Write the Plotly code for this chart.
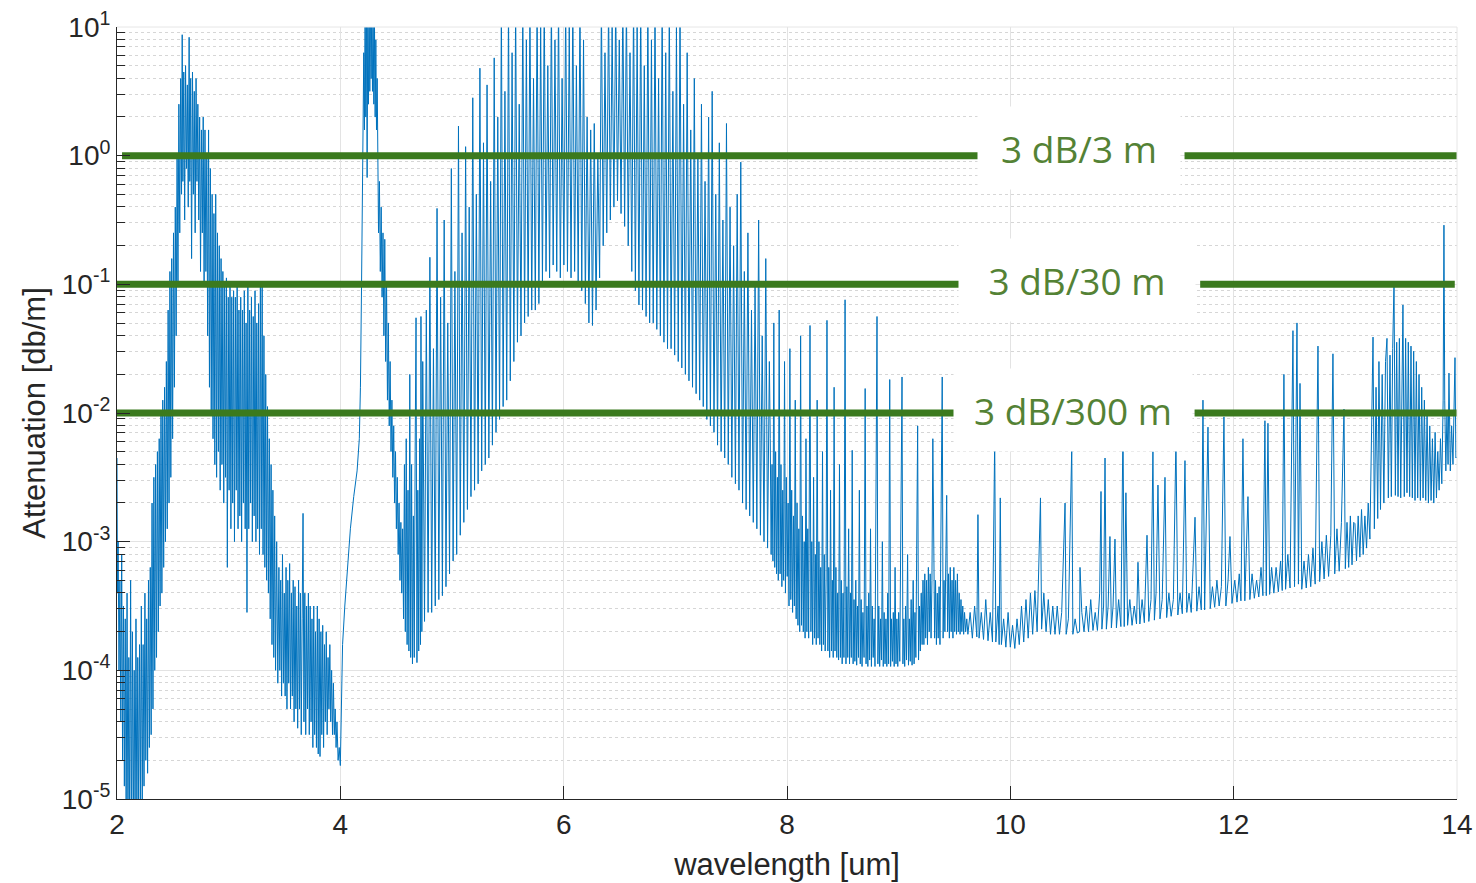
import math
import plotly.graph_objects as go

# ---- data: (wavelength um, log10 attenuation dB/m) ----
band_2um = [
(2.000,-2.35),(2.004,-3.4),(2.010,-3.0),(2.018,-4.0),(2.026,-3.3),(2.034,-4.4),(2.042,-3.1),(2.050,-4.7),
(2.058,-3.5),(2.066,-4.9),(2.074,-3.6),(2.082,-5.2),(2.090,-3.4),(2.098,-5.3),(2.106,-3.9),(2.114,-5.3),
(2.122,-3.3),(2.130,-5.3),(2.138,-3.7),(2.146,-5.3),(2.154,-4.0),(2.162,-5.2),(2.170,-3.6),(2.178,-5.3),
(2.186,-3.9),(2.194,-5.1),(2.202,-3.8),(2.210,-5.0),(2.218,-3.5),(2.226,-5.1),(2.234,-3.8),(2.242,-4.9),
(2.250,-3.4),(2.258,-4.7),(2.266,-3.6),(2.274,-4.8),(2.282,-3.3),(2.290,-4.6),(2.298,-3.2),(2.306,-4.5),
(2.314,-2.7),(2.322,-4.3),(2.330,-2.5),(2.338,-4.0),(2.346,-2.4),(2.354,-3.9),(2.362,-2.3),(2.370,-3.7),
(2.378,-2.2),(2.386,-3.5),(2.394,-2.0),(2.402,-3.4),(2.410,-1.9),(2.418,-3.2),(2.426,-1.8),(2.434,-3.0),
(2.442,-1.6),(2.450,-2.9),(2.458,-1.2),(2.466,-2.7),(2.474,-0.9),(2.482,-2.5),(2.490,-0.8),(2.498,-2.2),
(2.506,-0.6),(2.514,-1.8),(2.522,-0.4),(2.530,-1.4),(2.538,0.0),(2.546,-1.0),(2.554,0.4),
]

band_27um = [
(2.562,-0.6),(2.570,0.6),(2.578,-0.3),(2.584,0.94),(2.590,-0.2),(2.598,0.65),(2.606,-0.5),(2.614,0.7),
(2.622,-0.1),(2.630,0.55),(2.638,-0.4),(2.646,0.92),(2.652,-0.2),(2.660,0.6),(2.668,-0.8),(2.676,0.65),
(2.684,-0.3),(2.692,0.5),(2.700,-0.6),(2.708,0.6),(2.716,-0.2),(2.724,0.4),(2.732,-0.5),(2.740,0.3),
(2.748,-0.9),(2.756,0.2),(2.764,-0.6),(2.772,0.3),(2.780,-1.0),(2.788,0.2),(2.796,-0.9),(2.804,0.0),
(2.812,-1.4),(2.820,0.2),(2.828,-1.8),(2.836,-0.1),(2.844,-2.0),(2.852,-0.3),(2.860,-2.2),(2.868,-0.45),
(2.876,-2.4),(2.884,-0.3),(2.892,-2.5),(2.900,-0.6),(2.908,-2.3),(2.916,-0.7),(2.924,-2.6),(2.932,-0.8),
(2.940,-2.4),(2.948,-0.9),(2.956,-2.7),(2.964,-1.0),(2.972,-2.5),(2.980,-0.95),(2.988,-3.2),(2.996,-1.1),
(3.004,-2.6),(3.012,-1.0),(3.020,-2.9),(3.028,-1.1),(3.036,-2.7),(3.044,-1.05),(3.052,-3.0),(3.060,-1.1),
(3.068,-2.6),(3.076,-1.0),(3.084,-2.9),(3.092,-1.2),(3.100,-2.8),(3.108,-1.1),(3.116,-3.0),(3.124,-1.2),
(3.132,-2.7),(3.140,-1.05),(3.148,-2.9),(3.156,-1.3),(3.164,-3.55),(3.172,-1.0),(3.180,-2.9),(3.188,-1.2),
(3.196,-2.7),(3.204,-1.1),(3.212,-3.0),(3.220,-1.25),(3.228,-2.8),(3.236,-1.05),(3.244,-3.0),(3.252,-1.3),
(3.260,-2.9),(3.268,-1.15),(3.276,-3.1),(3.284,-1.0),(3.292,-2.9),(3.300,-1.0),(3.308,-3.1),(3.316,-1.4),
(3.324,-3.2),(3.332,-1.7),(3.340,-3.3),(3.348,-1.95),(3.356,-3.4),(3.364,-2.2),(3.372,-3.6),(3.380,-2.4),
(3.388,-3.8),(3.396,-2.6),(3.404,-3.9),(3.412,-2.8),(3.420,-4.0),(3.430,-3.0),(3.440,-4.1),
]

band_35um = [
(3.450,-3.2),(3.458,-4.0),(3.466,-3.3),(3.474,-4.2),(3.482,-3.1),(3.490,-4.1),(3.498,-3.4),(3.506,-4.2),
(3.514,-3.2),(3.522,-4.3),(3.530,-3.3),(3.538,-4.1),(3.546,-3.17),(3.554,-4.3),(3.562,-3.4),(3.570,-4.2),
(3.578,-3.3),(3.586,-4.4),(3.594,-3.35),(3.602,-4.3),(3.610,-3.5),(3.618,-4.45),(3.626,-3.3),(3.634,-4.3),
(3.642,-3.4),(3.650,-4.5),(3.658,-3.6),(3.666,-2.78),(3.674,-4.4),(3.682,-3.4),(3.690,-4.5),(3.698,-3.5),
(3.706,-4.3),(3.714,-3.4),(3.722,-4.5),(3.730,-3.5),(3.738,-4.4),(3.746,-3.6),(3.754,-4.6),(3.762,-3.5),
(3.770,-4.5),(3.778,-3.7),(3.786,-4.6),(3.794,-3.5),(3.802,-4.65),(3.810,-3.6),(3.818,-4.67),(3.826,-3.7),
(3.834,-4.5),(3.842,-3.65),(3.850,-4.6),(3.858,-3.8),(3.866,-4.4),(3.874,-3.7),(3.882,-4.5),(3.890,-3.9),
(3.898,-4.3),(3.906,-3.8),(3.914,-4.4),(3.922,-4.0),(3.930,-4.5),(3.938,-4.1),(3.946,-4.5),(3.954,-4.3),
(3.962,-4.6),(3.970,-4.4),(3.980,-4.7),(3.990,-4.6),(4.000,-4.74),
]

band_42um = [
(4.005,-4.4),(4.010,-4.2),(4.020,-3.8),(4.040,-3.5),(4.060,-3.25),(4.090,-2.9),(4.120,-2.65),(4.150,-2.45),
(4.170,-2.2),(4.180,-1.8),(4.190,-1.0),(4.200,-0.3),(4.205,0.3),(4.210,0.8),(4.216,0.2),(4.222,1.2),
(4.228,0.3),(4.234,1.2),(4.240,-0.17),(4.246,1.2),(4.252,0.4),(4.258,1.2),(4.264,0.5),(4.270,1.2),
(4.276,0.6),(4.282,1.2),(4.288,0.5),(4.294,1.1),(4.300,0.4),(4.306,1.0),(4.312,0.3),(4.318,0.9),
(4.324,0.2),(4.330,0.6),(4.336,0.0),(4.342,-0.6),(4.350,-0.2),(4.358,-0.9),(4.366,-0.4),(4.374,-1.1),
(4.382,-0.6),(4.390,-1.4),(4.398,-0.65),(4.406,-1.6),(4.414,-1.0),(4.422,-1.9),(4.430,-1.3),(4.438,-2.1),
(4.446,-1.6),(4.454,-2.3),(4.462,-1.9),(4.470,-2.5),(4.478,-2.1),(4.486,-2.7),(4.494,-2.3),(4.502,-2.9),
(4.510,-2.5),(4.518,-3.1),(4.526,-2.7),(4.534,-3.3),(4.542,-2.85),(4.550,-3.4),(4.558,-2.9),(4.566,-3.6),
(4.574,-2.4),(4.582,-3.7),(4.590,-2.2),(4.598,-3.8),(4.606,-2.6),(4.614,-3.85),(4.622,-1.7),(4.630,-3.9),
(4.638,-2.4),(4.646,-3.95),(4.654,-2.8),(4.662,-3.9),(4.670,-2.3),(4.678,-1.26),(4.686,-3.94),(4.694,-2.6),
(4.702,-3.85),(4.710,-2.2),(4.718,-3.8),(4.722,-1.25),(4.730,-3.7),
]

band_6um = [
(4.738,-1.6),(4.754,-3.62),(4.770,-1.2),(4.786,-3.55),(4.802,-0.79),(4.818,-3.55),(4.834,-1.5),(4.850,-3.5),
(4.866,-0.41),(4.882,-3.45),(4.898,-1.1),(4.914,-3.42),(4.930,-0.5),(4.946,-3.35),(4.962,-1.3),(4.978,-3.25),
(4.994,-0.1),(5.010,-3.15),(5.026,-0.9),(5.042,-3.1),(5.058,0.23),(5.074,-2.95),(5.090,-0.6),(5.106,-2.85),
(5.122,0.07),(5.138,-2.75),(5.154,-0.4),(5.170,-2.65),(5.186,0.45),(5.202,-2.6),(5.218,-0.3),(5.234,-2.55),
(5.250,0.68),(5.266,-2.45),(5.282,0.1),(5.298,-2.4),(5.314,0.55),(5.330,-2.35),(5.346,-0.2),(5.362,-2.25),
(5.378,0.76),(5.394,-2.15),(5.410,0.3),(5.426,-2.05),(5.442,1.2),(5.458,-1.95),(5.474,0.5),(5.490,-1.9),
(5.506,1.2),(5.522,-1.75),(5.538,0.8),(5.554,-1.6),(5.570,1.2),(5.586,-1.45),(5.602,0.4),(5.618,-1.4),
(5.634,1.2),(5.650,-1.3),(5.666,0.9),(5.682,-1.25),(5.698,1.2),(5.714,-1.2),(5.730,0.6),(5.746,-1.2),
(5.762,1.2),(5.778,-1.15),(5.794,1.0),(5.810,-1.0),(5.826,1.2),(5.842,-0.9),(5.858,0.7),(5.874,-0.95),
(5.890,1.2),(5.906,-0.85),(5.922,0.9),(5.938,-0.9),(5.954,1.2),(5.970,-0.95),(5.986,0.6),(6.002,-0.85),
(6.018,1.2),(6.034,-0.9),(6.050,1.0),(6.066,-0.95),(6.082,1.2),(6.098,-0.9),(6.114,0.7),(6.130,-1.0),
(6.146,1.2),(6.162,-1.05),(6.178,0.9),(6.194,-1.15),(6.210,0.3),(6.226,-1.3),(6.242,0.2),(6.258,-1.32),
(6.274,0.25),(6.290,-1.2),(6.306,0.0),(6.322,-0.95),(6.338,1.2),(6.354,-0.7),(6.370,0.8),(6.386,-0.6),
(6.402,1.2),(6.418,-0.5),(6.434,1.0),(6.450,-0.4),(6.466,1.2),(6.482,-0.35),(6.498,0.9),(6.514,-0.45),
(6.530,1.2),(6.546,-0.55),(6.562,1.2),(6.578,-0.7),(6.594,0.8),(6.610,-0.9),(6.626,1.2),(6.642,-1.05),
(6.658,1.0),(6.674,-1.16),(6.690,1.2),(6.706,-1.2),(6.722,0.7),(6.738,-1.25),(6.754,1.2),(6.770,-1.3),
(6.786,0.9),(6.802,-1.3),(6.818,1.2),(6.834,-1.35),(6.850,0.6),(6.866,-1.4),(6.882,1.2),(6.898,-1.45),
(6.914,0.8),(6.930,-1.5),(6.946,1.2),(6.962,-1.5),(6.978,0.5),(6.994,-1.55),(7.010,1.0),(7.026,-1.6),
(7.042,1.2),(7.058,-1.65),(7.074,0.4),(7.090,-1.7),(7.106,0.8),(7.122,-1.75),(7.138,0.2),(7.154,-1.8),
(7.170,0.6),(7.186,-1.85),(7.202,0.0),(7.218,-1.9),(7.234,0.4),(7.250,-1.95),(7.266,-0.2),(7.282,-2.05),
(7.298,0.3),(7.314,-2.1),(7.330,0.5),(7.346,-2.15),(7.362,-0.3),(7.378,-2.25),(7.394,0.1),(7.410,-2.3),
(7.426,-0.5),(7.442,-2.35),(7.458,0.25),(7.474,-2.4),(7.490,-0.4),(7.506,-2.5),(7.522,-0.7),(7.538,-2.55),
(7.554,-0.3),(7.570,-2.6),(7.586,-0.05),(7.602,-2.7),(7.618,-0.9),(7.634,-2.75),(7.650,-0.6),(7.666,-2.8),
(7.682,-1.2),(7.698,-2.85),(7.714,-1.0),(7.730,-2.9),(7.746,-0.5),(7.762,-2.95),(7.778,-1.4),(7.794,-3.0),
(7.810,-0.8),(7.826,-3.05),(7.842,-1.6),
]

band_8um = [
(7.850,-2.2),(7.858,-3.1),(7.866,-2.4),(7.874,-3.15),(7.882,-1.3),(7.890,-3.2),(7.898,-2.3),(7.906,-3.25),
(7.914,-2.5),(7.922,-3.3),(7.930,-1.2),(7.938,-3.25),(7.946,-2.4),(7.954,-3.35),(7.962,-2.6),(7.970,-3.3),
(7.978,-1.6),(7.986,-3.4),(7.994,-2.5),(8.002,-3.27),(8.010,-2.7),(8.018,-3.5),(8.026,-1.5),(8.034,-3.45),
(8.042,-2.6),(8.050,-3.55),(8.058,-2.8),(8.066,-3.5),(8.074,-1.9),(8.082,-3.6),(8.090,-2.7),(8.098,-3.65),
(8.106,-2.9),(8.114,-3.7),(8.122,-1.4),(8.130,-3.65),(8.138,-2.8),(8.146,-3.7),(8.154,-3.0),(8.162,-3.75),
(8.170,-2.2),(8.178,-3.7),(8.186,-2.9),(8.194,-3.75),(8.206,-1.32),(8.214,-3.7),(8.222,-3.0),(8.230,-3.8),
(8.238,-2.5),(8.246,-3.75),(8.254,-3.1),(8.262,-3.8),(8.270,-1.9),(8.278,-3.75),(8.286,-3.0),(8.294,-3.8),
(8.302,-3.2),(8.310,-3.85),(8.318,-2.3),(8.326,-3.8),(8.334,-3.1),(8.342,-3.85),(8.350,-3.3),(8.358,-1.28),
(8.366,-3.85),(8.374,-3.2),(8.382,-3.9),(8.390,-2.6),(8.398,-3.85),(8.406,-3.3),(8.414,-3.9),(8.422,-1.8),
(8.430,-3.85),(8.438,-3.2),(8.446,-3.9),(8.454,-3.4),(8.462,-3.92),(8.470,-2.4),(8.478,-3.9),(8.486,-3.3),
(8.494,-3.95),(8.502,-3.4),(8.510,-3.9),(8.520,-1.12),(8.528,-3.95),(8.536,-3.35),(8.544,-3.9),(8.552,-2.9),
(8.560,-3.95),(8.568,-3.4),(8.576,-3.9),(8.584,-2.29),(8.592,-3.95),(8.600,-3.45),(8.608,-3.93),(8.616,-3.3),
(8.624,-3.96),(8.632,-3.5),(8.640,-3.9),(8.648,-2.6),(8.656,-3.95),(8.664,-3.45),(8.672,-3.97),(8.680,-3.55),
(8.690,-3.9),(8.700,-1.81),(8.708,-3.95),(8.716,-3.5),(8.724,-3.97),(8.732,-3.4),(8.740,-3.92),(8.748,-2.9),
(8.756,-3.97),(8.764,-3.5),(8.772,-3.9),(8.780,-3.6),(8.788,-3.97),(8.806,-1.25),(8.814,-3.95),(8.822,-3.5),
(8.830,-3.97),(8.838,-3.6),(8.846,-3.92),(8.854,-3.0),(8.862,-3.97),(8.870,-3.55),(8.878,-3.95),(8.886,-3.6),
(8.894,-3.97),(8.902,-3.4),(8.910,-3.95),(8.920,-1.74),(8.928,-3.97),(8.936,-3.6),(8.944,-3.93),(8.952,-3.55),
(8.960,-3.97),(8.968,-3.2),(8.976,-3.95),(8.984,-3.6),(8.992,-3.97),(9.000,-3.55),(9.010,-3.93),(9.030,-1.72),
(9.038,-3.95),(9.046,-3.6),(9.054,-3.97),(9.062,-3.5),(9.070,-3.92),(9.080,-3.1),(9.088,-3.96),(9.096,-3.6),
(9.104,-3.93),(9.112,-3.45),(9.120,-3.96),(9.130,-3.3),(9.138,-3.95),(9.146,-3.55),(9.154,-3.9),(9.170,-2.1),
(9.178,-3.92),
]

band_10um = [
(9.186,-3.5),(9.194,-3.85),(9.202,-3.4),(9.210,-3.8),(9.218,-3.3),(9.226,-3.8),(9.234,-3.25),(9.242,-3.75),
(9.250,-3.3),(9.258,-3.8),(9.266,-3.2),(9.274,-3.7),(9.282,-3.25),(9.290,-3.75),(9.298,-3.3),(9.306,-2.2),
(9.314,-3.35),(9.322,-3.75),(9.330,-3.3),(9.338,-3.8),(9.346,-3.4),(9.354,-3.75),(9.362,-3.35),(9.370,-3.8),
(9.390,-1.72),(9.398,-3.75),(9.406,-3.3),(9.414,-3.7),(9.430,-2.64),(9.438,-3.7),(9.446,-3.25),(9.454,-3.75),
(9.462,-3.2),(9.470,-3.7),(9.478,-3.3),(9.486,-3.75),(9.494,-3.2),(9.502,-3.7),(9.510,-3.3),(9.518,-3.72),
(9.526,-3.25),(9.534,-3.7),(9.542,-3.4),(9.550,-3.72),(9.558,-3.45),(9.566,-3.7),(9.574,-3.5),(9.582,-3.72),
(9.590,-3.55),(9.600,-3.7),(9.610,-3.6),(9.620,-3.72),(9.640,-3.55),(9.660,-3.75),(9.680,-3.5),(9.700,-3.74),
(9.710,-2.79),(9.720,-3.75),(9.740,-3.55),(9.760,-3.76),(9.780,-3.45),(9.800,-3.77),(9.820,-3.55),(9.840,-3.78),
(9.860,-2.2),(9.870,-3.78),(9.890,-3.5),(9.900,-3.8),(9.910,-2.66),(9.920,-3.8),(9.940,-3.6),(9.960,-3.82),
(9.980,-3.55),(10.000,-3.82),(10.020,-3.65),(10.040,-3.83),(10.060,-3.6),(10.080,-3.8),(10.100,-3.5),(10.120,-3.78),
(10.140,-3.45),(10.160,-3.75),(10.180,-3.4),(10.200,-3.72),(10.220,-3.38),(10.240,-3.7),(10.270,-2.66),(10.280,-3.68),
(10.300,-3.4),(10.320,-3.7),(10.340,-3.45),(10.360,-3.72),(10.380,-3.5),(10.400,-3.72),(10.420,-3.5),(10.440,-3.72),
(10.460,-3.55),(10.490,-2.7),(10.500,-3.72),(10.520,-3.6),(10.550,-2.26),(10.560,-3.72),(10.580,-3.6),(10.600,-3.71),
]

band_12um = [
(10.620,-3.7),(10.624,-3.2),(10.640,-3.55),(10.660,-3.70),(10.680,-3.5),(10.700,-3.70),(10.720,-3.45),(10.740,-3.69),
(10.760,-3.55),(10.780,-3.69),(10.800,-3.4),(10.812,-2.61),(10.820,-3.68),(10.835,-3.5),(10.848,-2.35),(10.860,-3.68),
(10.876,-3.5),(10.892,-2.96),(10.905,-3.67),(10.920,-3.5),(10.937,-2.98),(10.950,-3.67),(10.970,-3.45),(10.990,-3.66),
(11.009,-2.08),(11.020,-3.66),(11.035,-2.62),(11.050,-3.65),(11.070,-3.45),(11.090,-3.65),(11.110,-3.5),(11.130,-3.64),
(11.143,-3.16),(11.160,-3.64),(11.180,-3.45),(11.200,-3.63),(11.224,-2.95),(11.240,-3.62),(11.260,-3.45),(11.277,-2.3),
(11.290,-3.61),(11.305,-3.4),(11.322,-2.56),(11.340,-3.6),(11.360,-3.45),(11.385,-2.5),(11.400,-3.59),(11.420,-3.4),
(11.440,-3.58),(11.460,-3.45),(11.483,-2.2),(11.500,-3.57),(11.520,-3.4),(11.540,-3.56),(11.564,-2.37),(11.580,-3.55),
(11.600,-3.4),(11.620,-3.55),(11.654,-2.81),(11.670,-3.54),(11.690,-3.35),(11.710,-3.53),(11.725,-1.9),(11.740,-3.53),
(11.770,-2.11),(11.790,-3.52),(11.810,-3.35),(11.830,-3.51),(11.850,-3.3),(11.870,-3.5),(11.890,-3.35),(11.913,-2.03),
(11.930,-3.5),(11.950,-3.3),(11.967,-2.96),(11.985,-3.48),(12.010,-3.3),(12.030,-3.47),(12.050,-3.25),(12.065,-3.46),
(12.083,-2.2),(12.100,-3.46),(12.128,-2.65),(12.145,-3.45),(12.165,-3.25),(12.185,-3.44),(12.205,-3.3),(12.225,-3.43),
(12.245,-3.2),(12.262,-3.42),(12.280,-2.06),(12.292,-3.42),(12.307,-2.08),(12.322,-3.41),(12.340,-3.2),(12.360,-3.40),
(12.380,-3.2),(12.400,-3.39),(12.420,-3.15),(12.435,-3.38),(12.450,-1.7),(12.465,-3.37),(12.485,-3.1),(12.505,-3.36),
(12.531,-1.36),(12.545,-3.35),(12.567,-1.3),(12.580,-3.33),(12.594,-1.77),(12.610,-3.37),(12.630,-3.15),(12.650,-3.36),
(12.670,-3.1),(12.690,-3.35),(12.710,-3.05),(12.730,-3.33),(12.755,-1.48),(12.770,-3.31),(12.790,-3.0),(12.810,-3.29),
(12.830,-2.95),(12.850,-3.27),(12.870,-2.95),(12.889,-1.54),(12.905,-3.25),(12.925,-2.9),(12.945,-3.23),(12.965,-2.85),
(12.988,-1.97),(13.000,-3.21),(13.015,-2.85),(13.030,-3.2),(13.045,-2.8),(13.060,-3.18),(13.075,-2.85),(13.086,-2.86),
(13.100,-3.15),(13.115,-2.8),(13.130,-3.12),(13.145,-2.75),(13.160,-3.1),(13.175,-2.8),(13.190,-3.05),(13.205,-2.7),
(13.220,-2.98),(13.235,-1.9),(13.248,-1.41),(13.260,-2.9),(13.275,-1.8),(13.290,-2.82),(13.301,-1.6),(13.315,-2.75),
(13.330,-1.7),(13.345,-2.7),(13.360,-1.6),(13.373,-1.42),(13.385,-2.66),(13.400,-1.55),(13.412,-2.65),(13.424,-1.5),
(13.436,-0.99),(13.448,-2.64),(13.460,-1.45),(13.472,-2.65),(13.484,-1.42),(13.496,-2.66),(13.508,-1.41),(13.516,-1.16),
(13.528,-2.65),(13.540,-1.42),(13.552,-2.62),(13.564,-1.45),(13.576,-2.65),(13.588,-1.48),(13.600,-2.66),(13.612,-1.52),
(13.624,-2.68),(13.636,-1.6),(13.648,-2.66),(13.660,-1.7),(13.672,-2.68),(13.684,-1.8),(13.696,-2.66),(13.708,-1.9),
(13.720,-2.68),(13.732,-2.0),(13.744,-2.7),(13.756,-2.1),(13.768,-2.68),(13.780,-2.2),(13.792,-2.7),(13.804,-2.15),
(13.816,-2.66),(13.828,-2.3),(13.840,-2.6),(13.852,-2.2),(13.864,-2.55),(13.876,-1.9),(13.883,-0.54),(13.890,-1.9),
(13.900,-2.45),(13.910,-2.0),(13.920,-2.4),(13.928,-1.69),(13.940,-2.45),(13.952,-2.1),(13.964,-2.4),(13.972,-2.0),
(13.982,-1.57),(13.990,-2.35),(14.000,-2.34),
]

# reference attenuation levels (green lines) and their labels
level_values = [1.0, 0.1, 0.01]
level_labels = ["3 dB/3 m", "3 dB/30 m", "3 dB/300 m"]
level_left_x = [(2.045, 9.73), (2.0, 9.62), (2.0, 9.53)]
level_right_x = [(11.56, 14.0), (11.70, 13.98), (11.65, 14.0)]
label_x = [10.615, 10.597, 10.561]
label_box_w = [200, 234, 236]
label_shift = [8, 4, 3]

x_ticks = [2, 4, 6, 8, 10, 12, 14]
y_exps = [-5, -4, -3, -2, -1, 0, 1]
y_ticktext = ["10<sup>%d</sup>" % e for e in y_exps]
y_minor = [m * 10.0 ** e for e in range(-5, 1) for m in range(2, 10)]

# ---- build ----
segments = [band_2um, band_27um, band_35um, band_42um, band_6um, band_8um, band_10um, band_12um]
wl, att = [], []
for seg in segments:
    for x, lg in seg:
        wl.append(x)
        att.append(10.0 ** lg)

fig = go.Figure()
fig.add_trace(go.Scatter(x=wl, y=att, mode="lines",
                         line=dict(color="#0072BD", width=1), hoverinfo="skip"))

green = "#3B7A1E"
for val, (la, lb), (ra, rb) in zip(level_values, level_left_x, level_right_x):
    fig.add_trace(go.Scatter(x=[la, lb, None, ra, rb], y=[val, val, None, val, val],
                             mode="lines", line=dict(color=green, width=7),
                             hoverinfo="skip"))

for val, txt, lx, bw, sh in zip(level_values, level_labels, label_x, label_box_w, label_shift):
    fig.add_annotation(x=lx, y=math.log10(val), xref="x", yref="y", text=txt,
                       showarrow=False, bgcolor="white", width=bw, height=80,
                       yshift=sh,
                       font=dict(family="Open Sans", size=37, color="#548235"))

font_axis = "Liberation Sans, Arial, Helvetica, sans-serif"
fig.update_layout(
    width=1476, height=883,
    margin=dict(l=117, r=19, t=27, b=84),
    paper_bgcolor="white", plot_bgcolor="white",
    showlegend=False,
    font=dict(family=font_axis, color="#262626"),
    xaxis=dict(range=[2, 14], tickvals=x_ticks, ticktext=[str(v) for v in x_ticks],
               automargin=False,
               ticks="inside", ticklen=13, tickwidth=1, tickcolor="#262626",
               showline=True, linecolor="#262626", linewidth=1,
               showgrid=True, gridcolor="#e3e3e3", gridwidth=1, zeroline=False,
               tickfont=dict(size=28, family=font_axis, color="#262626"),
               title=dict(text="wavelength [um]", font=dict(size=31, family=font_axis, color="#262626"),
                          standoff=14)),
    yaxis=dict(type="log", range=[-5, 1], tickvals=[10.0 ** e for e in y_exps], ticktext=y_ticktext,
               automargin=False,
               ticks="inside", ticklen=13, tickwidth=1, tickcolor="#262626",
               showline=True, linecolor="#262626", linewidth=1,
               showgrid=True, gridcolor="#e3e3e3", gridwidth=1, zeroline=False,
               tickfont=dict(size=28, family=font_axis, color="#262626"),
               minor=dict(tickvals=y_minor, ticks="inside", ticklen=8, tickcolor="#262626",
                          showgrid=True, griddash="dot", gridcolor="#d6d6d6", gridwidth=1),
               title=dict(text="Attenuation [db/m]", font=dict(size=31, family=font_axis, color="#262626"),
                          standoff=6)),
)
# light top / right frame
fig.add_shape(type="line", xref="paper", yref="paper", x0=0, x1=1, y0=1, y1=1,
              line=dict(color="#e6e6e6", width=1))
fig.add_shape(type="line", xref="paper", yref="paper", x0=1, x1=1, y0=0, y1=1,
              line=dict(color="#e6e6e6", width=1))

fig.write_html("out.html")
